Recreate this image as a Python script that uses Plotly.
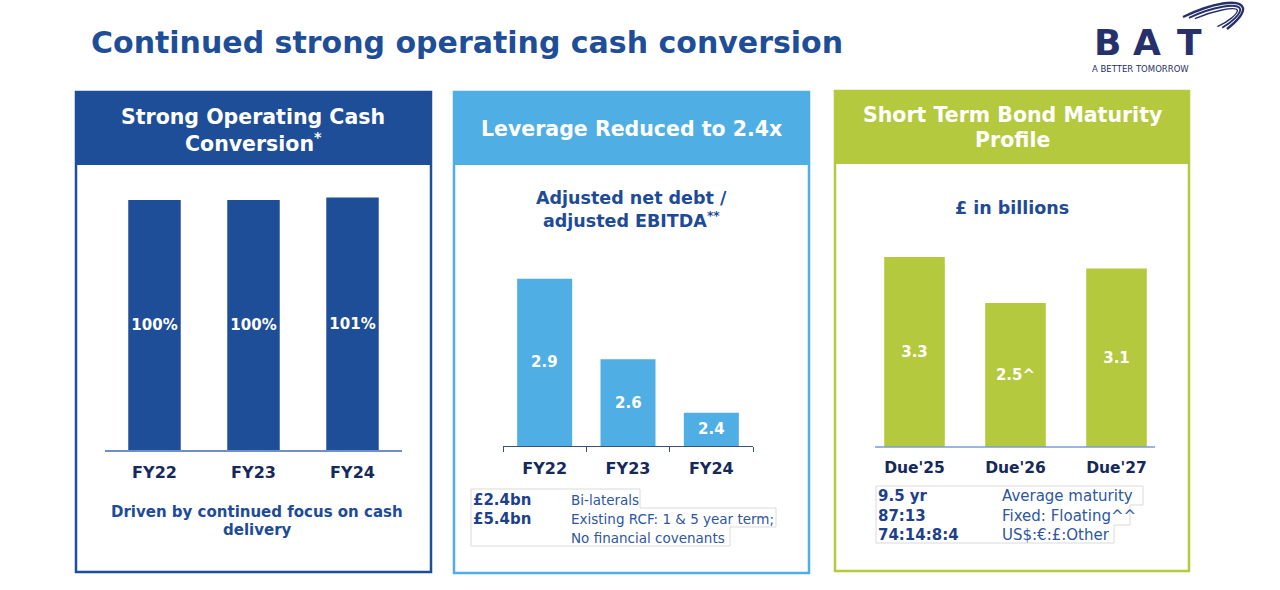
import plotly.graph_objects as go

W, H = 1280, 590

# ---------------- data ----------------
cash_categories = ["FY22", "FY23", "FY24"]
cash_conversion = [100, 100, 101]
cash_labels = ["100%", "100%", "101%"]

lev_categories = ["FY22", "FY23", "FY24"]
leverage = [2.9, 2.6, 2.4]
lev_labels = ["2.9", "2.6", "2.4"]

bond_categories = ["Due'25", "Due'26", "Due'27"]
bond_maturity = [3.3, 2.5, 3.1]
bond_labels = ["3.3", "2.5^", "3.1"]

lev_notes_values = ["£2.4bn", "£5.4bn", ""]
lev_notes_text = ["Bi-laterals", "Existing RCF: 1 & 5 year term;", "No financial covenants"]

bond_notes_values = ["9.5 yr", "87:13", "74:14:8:4"]
bond_notes_text = ["Average maturity", "Fixed: Floating^^", "US$:€:£:Other"]

# ---------------- style ----------------
NAVY = "#1F4E98"
LIGHT = "#4FAEE4"
GREEN = "#B5C93E"
TXT = "#1E4B98"
DARK = "#15295B"
LOGO = "#27306B"
FONT = "DejaVu Sans"


def px(x):
    return x / W


def py(y):
    return 1 - y / H


def pt(x, y):
    return f"{px(x):.5f},{py(y):.5f}"


def path(points, close=True):
    s = "M " + " L ".join(pt(x, y) for x, y in points)
    return s + (" Z" if close else "")


fig = go.Figure()

fig.add_trace(go.Bar(
    x=cash_categories, y=cash_conversion, xaxis="x", yaxis="y",
    marker=dict(color=NAVY, line=dict(width=0)), width=0.53,
    text=cash_labels, textposition="inside", insidetextanchor="middle", textangle=0,
    textfont=dict(family=FONT, size=15, color="white", weight="bold"),
    hoverinfo="skip"))

fig.add_trace(go.Bar(
    x=lev_categories, y=leverage, xaxis="x2", yaxis="y2",
    marker=dict(color=LIGHT, line=dict(width=0)), width=0.66,
    hoverinfo="skip"))

fig.add_trace(go.Bar(
    x=bond_categories, y=bond_maturity, xaxis="x3", yaxis="y3",
    marker=dict(color=GREEN, line=dict(width=0)), width=0.6,
    text=bond_labels, textposition="inside", insidetextanchor="middle", textangle=0,
    textfont=dict(family=FONT, size=15, color="white", weight="bold"),
    hoverinfo="skip"))

LEV_BASE = 2.276
LEV_TOP = 2.976

tickfont = dict(family=FONT, size=16, color=DARK, weight="bold")

fig.update_layout(
    width=W, height=H,
    margin=dict(l=0, r=0, t=0, b=0),
    paper_bgcolor="white", plot_bgcolor="rgba(0,0,0,0)",
    showlegend=False,
    xaxis=dict(domain=[px(105), px(402)], anchor="y", showline=True, linecolor="#6F8FC4",
               linewidth=1.5, ticks="", tickfont=tickfont, ticklabelstandoff=7,
               showgrid=False, zeroline=False, fixedrange=True),
    yaxis=dict(domain=[py(450), py(150)], anchor="x", range=[0, 120], visible=False,
               fixedrange=True),
    xaxis2=dict(domain=[px(503), px(753)], anchor="y2", showline=True, linecolor="#3A4F7A",
                linewidth=1.3, ticks="outside", tickson="boundaries", ticklen=5,
                tickcolor="#3A4F7A", tickwidth=1.3, tickfont=tickfont, ticklabelstandoff=8,
                showgrid=False, zeroline=False, fixedrange=True),
    yaxis2=dict(domain=[py(446), py(446 - 0.7 * 268)], anchor="x2",
                range=[LEV_BASE, LEV_TOP], visible=False, fixedrange=True),
    xaxis3=dict(domain=[px(864), px(1167)], anchor="y3", showline=False, ticks="",
                tickfont=dict(family=FONT, size=15.5, color=DARK, weight="bold"),
                ticklabelstandoff=9, showgrid=False, zeroline=False, fixedrange=True),
    yaxis3=dict(domain=[py(447), py(447 - 4 * 57.6)], anchor="x3", range=[0, 4],
                visible=False, fixedrange=True),
)

shapes = []
# panel frames
panels = [(75, 432, 91, 165, 573, NAVY), (453, 810, 91, 165, 574, LIGHT),
          (834, 1190, 90, 164, 572, GREEN)]
for x0, x1, y0, yh, y1, col in panels:
    shapes.append(dict(type="rect", xref="paper", yref="paper", x0=px(x0), x1=px(x1),
                       y0=py(yh), y1=py(y0), fillcolor=col, line=dict(width=0), layer="below"))
    shapes.append(dict(type="rect", xref="paper", yref="paper", x0=px(x0 + 1), x1=px(x1 - 1),
                       y0=py(y1 - 1), y1=py(y0 + 1), fillcolor="rgba(0,0,0,0)",
                       line=dict(width=2.5, color=col), layer="below"))
# panel 3 baseline
shapes.append(dict(type="line", xref="paper", yref="paper", x0=px(875), x1=px(1155),
                   y0=py(447), y1=py(447), line=dict(color="#7D9BD0", width=1.5)))
# faint text frames
shapes.append(dict(type="path", xref="paper", yref="paper",
                   path=path([(471, 489), (640, 489), (640, 508), (776, 508), (776, 527),
                              (730, 527), (730, 546), (471, 546)]),
                   line=dict(color="#DADADA", width=1)))
shapes.append(dict(type="path", xref="paper", yref="paper",
                   path=path([(876, 486), (1143, 486), (1143, 505), (1130, 505), (1130, 525),
                              (1114, 525), (1114, 543), (876, 543)]),
                   line=dict(color="#DADADA", width=1)))
# logo swoosh (three parallel strokes)
for i, d in enumerate([0, 4, 8]):
    p = (f"M {pt(1183 + d * 1.5, 17 + d * 0.2)} "
         f"C {pt(1212, 3 + d)} {pt(1240 - d * 0.5, -2 + d)} {pt(1243 - d * 0.7, 8 + d * 0.3)} "
         f"C {pt(1244 - d * 0.8, 14)} {pt(1236 - d, 22)} {pt(1227 - d * 1.2, 29 - d * 0.3)}")
    shapes.append(dict(type="path", xref="paper", yref="paper", path=p,
                       line=dict(color=LOGO, width=2.4 - i * 0.5)))
fig.update_layout(shapes=shapes)

ann = []


def text(x, y, s, size, color, bold=True, anchor="center", family=FONT):
    ann.append(dict(x=px(x), y=py(y), xref="paper", yref="paper", text=s, showarrow=False,
                    xanchor=anchor, yanchor="middle",
                    font=dict(family=family, size=size, color=color,
                              weight="bold" if bold else "normal")))


# main title
text(89, 43, "Continued strong operating cash conversion", 30, NAVY, anchor="left")

# logo
for ch, cx in zip("BAT", [1107, 1147, 1189]):
    text(cx, 43, ch, 36, LOGO)
text(1090, 69, "A BETTER TOMORROW", 8.5, LOGO, bold=False, anchor="left")

# panel headers
text(253, 117, "Strong Operating Cash", 20.5, "white")
text(253, 142, "Conversion<sup>*</sup>", 20.5, "white")
text(631, 129, "Leverage Reduced to 2.4x", 20.5, "white")
text(1012, 115, "Short Term Bond Maturity", 20.5, "white")
text(1012, 140, "Profile", 20.5, "white")

# subtitles
text(631, 198, "Adjusted net debt /", 17.5, TXT)
text(631, 220, "adjusted EBITDA<sup>**</sup>", 17.5, TXT)
text(1012, 208, "£ in billions", 17.5, TXT)

# panel 1 footer
text(257, 512, "Driven by continued focus on cash", 15, TXT)
text(257, 530, "delivery", 15, TXT)

# leverage bar labels (centre of visible bar)
for c, v, lab in zip(lev_categories, leverage, lev_labels):
    ann.append(dict(x=c, y=(v + LEV_BASE) / 2, xref="x2", yref="y2", text=lab,
                    showarrow=False,
                    font=dict(family=FONT, size=15, color="white", weight="bold")))

# panel 2 notes
for i, (v, t) in enumerate(zip(lev_notes_values, lev_notes_text)):
    y = 500 + i * 19
    if v:
        text(471, y, v, 15, "#1E3F8A", anchor="left")
    text(569, y, t, 13.5, "#2D56A3", bold=False, anchor="left")

# panel 3 notes
for i, (v, t) in enumerate(zip(bond_notes_values, bond_notes_text)):
    y = 496 + i * 19.5
    text(876, y, v, 15, "#1E3F8A", anchor="left")
    text(1000, y, t, 15, "#2D56A3", bold=False, anchor="left")

fig.update_layout(annotations=ann)

fig.write_html("out.html")
